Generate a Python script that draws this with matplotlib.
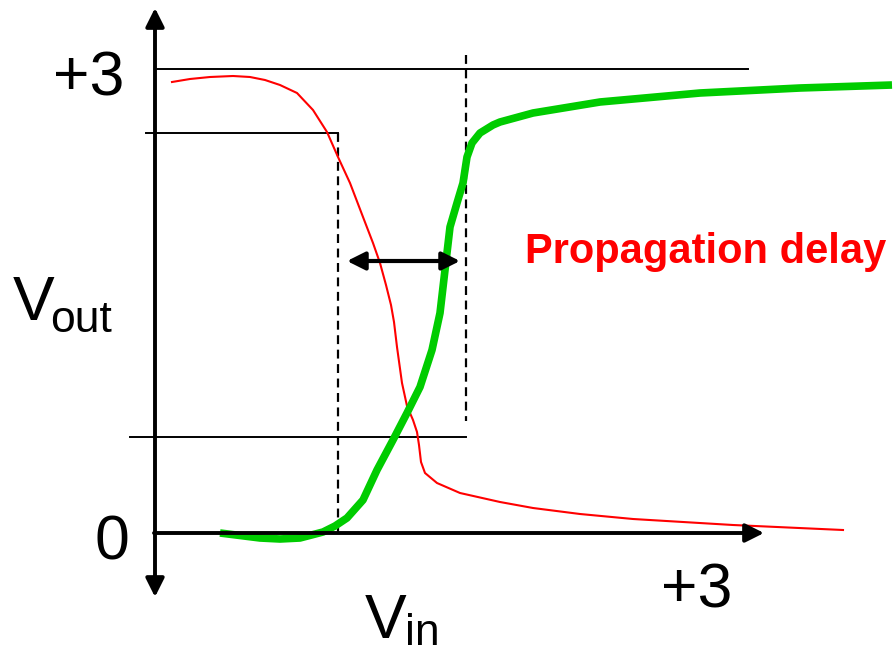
import matplotlib
matplotlib.use("Agg")
import matplotlib.pyplot as plt

# curves (picture units: x to the right, y downwards)
red_x = [172, 190, 210, 233, 250, 265, 280, 297, 313, 327, 338, 350, 363, 373,
         380, 386, 391, 394, 397, 402, 407, 413, 417, 419, 421, 425, 437, 460,
         500, 533, 580, 633, 733, 843]
red_y = [82, 79, 77, 76, 77, 80, 85, 93, 110, 132, 157, 183, 217, 243,
         263, 285, 305, 322, 347, 383, 406, 420, 432, 445, 462, 473, 483, 493,
         502, 508, 514, 519, 525, 530]

green_x = [220, 240, 260, 280, 300, 323, 335, 347, 363, 377, 393, 407, 420, 432,
           440, 445, 450, 457, 463, 467, 472, 480, 493, 500, 533, 600, 700, 800, 892]
green_y = [533, 535.5, 538, 539, 538, 532, 526, 518, 500, 470, 440, 413, 387, 350,
           313, 270, 227, 203, 183, 157, 143, 133, 125, 122, 113, 102, 93, 88, 85]

# reference levels
y_top = 69       # +3 level
y_vih = 133
y_vil = 437
y_zero = 533
x_axis = 155
x_left = 338
x_right = 466

fig = plt.figure(figsize=(8.94, 6.52), dpi=100)
ax = fig.add_axes([0, 0, 1, 1])
ax.set_xlim(0, 894)
ax.set_ylim(652, 0)
ax.axis("off")

# guide lines
ax.plot([157, 748], [y_top, y_top], color="black", lw=1.4)
ax.plot([146, x_left], [y_vih, y_vih], color="black", lw=1.4)
ax.plot([130, x_right], [y_vil, y_vil], color="black", lw=1.4)
ax.plot([x_left, x_left], [y_vih, y_zero], color="black", lw=1.6, ls=(0, (4, 2.5)))
ax.plot([x_right, x_right], [55, 421], color="black", lw=1.6, ls=(0, (4, 2.5)))

# axes with arrows
ax.annotate("", xy=(x_axis, 8), xytext=(x_axis, 597),
            arrowprops=dict(arrowstyle="<|-|>", lw=2.8, color="black",
                            mutation_scale=28, shrinkA=0, shrinkB=0))
ax.annotate("", xy=(764, y_zero), xytext=(x_axis - 1, y_zero),
            arrowprops=dict(arrowstyle="-|>", lw=2.8, color="black",
                            mutation_scale=28, shrinkA=0, shrinkB=0))

# curves
ax.plot(red_x, red_y, color="#ff0000", lw=1.5, solid_joinstyle="round")
ax.plot(green_x, green_y, color="#00cc00", lw=5.5, solid_joinstyle="round",
        solid_capstyle="butt")

# propagation delay arrow
ax.annotate("", xy=(347, 261), xytext=(460, 261),
            arrowprops=dict(arrowstyle="<|-|>", lw=3, color="black",
                            mutation_scale=27, shrinkA=0, shrinkB=0))

font = "Liberation Sans"
ax.text(89, 95, "+3", fontsize=45, family=font, ha="center", va="baseline")
ax.text(112, 560, "0", fontsize=45, family=font, ha="center", va="baseline")
ax.text(697, 607, "+3", fontsize=45, family=font, ha="center", va="baseline")
ax.text(13, 320, "V", fontsize=45, family=font, ha="left", va="baseline")
ax.text(50, 332, "out", fontsize=32, family=font, ha="left", va="baseline")
ax.text(365, 638, "V", fontsize=45, family=font, ha="left", va="baseline")
ax.text(405, 645, "in", fontsize=32, family=font, ha="left", va="baseline")
ax.text(525, 263, "Propagation delay", fontsize=30, family=font,
        fontweight="bold", color="#ff0000", ha="left", va="baseline")

fig.savefig("out.png", dpi=100)
